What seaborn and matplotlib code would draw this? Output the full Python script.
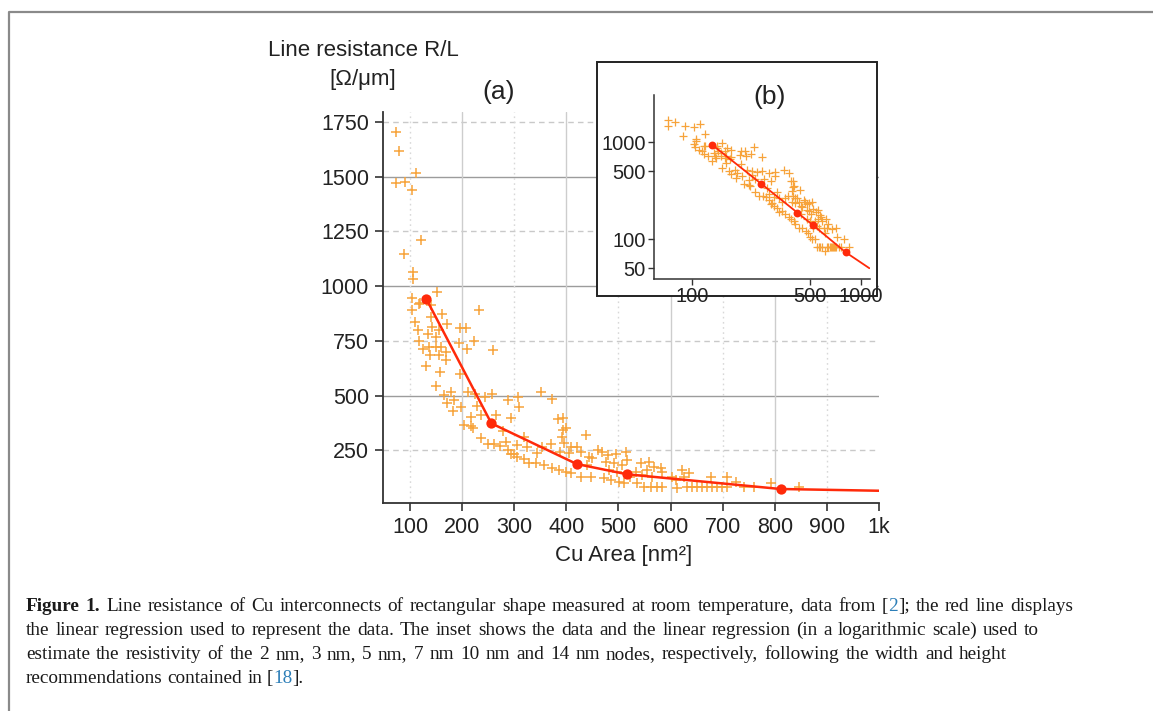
import matplotlib
matplotlib.use("Agg")
import matplotlib.pyplot as plt
import seaborn as sns
import pandas as pd
from matplotlib.lines import Line2D
from matplotlib.patches import Rectangle

# ---------------- data ----------------
area = [72, 79, 112, 72, 91, 103, 120, 88, 106, 106, 151, 103, 119, 104, 161, 232,
        118, 140, 171, 110, 115, 135, 156, 149, 140, 143, 118, 124, 137, 149, 159, 156,
        139, 168, 169, 131, 158, 195, 207, 193, 209, 222, 260, 195, 150, 165, 179, 171,
        184, 182, 198, 211, 225, 228, 217, 203, 217, 220, 236, 244, 258, 265, 278, 287,
        294, 308, 309, 352, 373, 237, 249, 262, 273, 284, 287, 294, 306, 318, 325, 343,
        354, 370, 383, 394, 394, 399, 391, 396, 388, 405, 408, 299, 306, 319, 329, 341,
        357, 373, 386, 399, 408, 420, 428, 437, 444, 460, 440, 450, 428, 447,
        469, 479, 495, 514, 517, 476, 491, 507, 482, 498, 523, 472, 485, 501, 511, 536,
        549, 562, 574, 584, 543, 559, 555, 568, 581, 533, 546, 565, 584, 603, 610, 622,
        626, 635, 613, 632, 642, 651, 661, 670, 680, 689, 699, 709, 677, 709, 725, 740,
        760, 792, 846]
resistance = [1703, 1617, 1518, 1473, 1476, 1439, 1211, 1145, 1066, 1035, 975, 947, 921, 891, 874, 891,
              918, 914, 827, 837, 799, 780, 799, 769, 860, 815, 751, 711, 723, 723, 723, 685,
              685, 662, 700, 635, 609, 807, 807, 741, 713, 749, 708, 598, 543, 502, 517, 464,
              482, 429, 449, 517, 505, 452, 403, 365, 361, 350, 411, 492, 505, 411, 339, 482,
              396, 495, 449, 516, 483, 304, 278, 278, 269, 289, 251, 231, 274, 309, 266, 239,
              266, 278, 393, 396, 342, 350, 312, 281, 243, 236, 266, 233, 220, 208, 190, 193,
              182, 167, 159, 152, 144, 266, 243, 319, 220, 251, 182, 213, 129, 129,
              243, 228, 233, 243, 205, 198, 193, 182, 159, 152, 129, 121, 114, 106, 99, 99,
              83, 83, 83, 83, 190, 198, 162, 175, 167, 152, 137, 129, 152, 129, 114, 159,
              129, 144, 76, 83, 83, 83, 83, 83, 83, 83, 83, 83, 126, 129, 106, 83,
              83, 99, 83]

fit_area = [131, 256, 420, 517, 811]
fit_res = [942, 373, 187, 140, 73]
main_end_area = [1000]
main_end_res = [65]
inset_end_area = [1120]
inset_end_res = [50]

x_ticks = [100, 200, 300, 400, 500, 600, 700, 800, 900, 1000]
x_ticklabels = ["100", "200", "300", "400", "500", "600", "700", "800", "900", "1k"]
y_ticks = [250, 500, 750, 1000, 1250, 1500, 1750]
inset_x_ticks = [100, 500, 1000]
inset_y_ticks = [50, 100, 500, 1000]

W, H = 1153, 711
ORANGE = "#F7A33A"
RED = "#FF2A0A"
TXT = "#222222"

sns.set_style("white")
plt.rcParams["font.family"] = ["Liberation Sans", "DejaVu Sans"]

fig = plt.figure(figsize=(W / 100, H / 100), dpi=100)
fig.patch.set_facecolor("white")

def fx(px):
    return px / W

def fy(py):
    return 1 - py / H

# ---------------- main axes ----------------
ax = fig.add_axes([fx(383), fy(503), fx(879) - fx(383), fy(112) - fy(503)])
ax.set_xlim(48, 1000)
ax.set_ylim(9, 1796)

for v in y_ticks:
    if v % 500 == 0:
        ax.axhline(v, color="#9c9c9c", lw=1.0, zorder=0)
    else:
        ax.axhline(v, color="#c9c9c9", lw=1.0, ls=(0, (4, 3)), zorder=0)
for v in x_ticks[:-1]:
    if v % 200 == 0:
        ax.axvline(v, color="#cdcdcd", lw=1.0, zorder=0)
    else:
        ax.axvline(v, color="#d8d8d8", lw=1.0, ls=(0, (1.2, 2.5)), zorder=0)

df = pd.DataFrame({"area": area, "res": resistance})
sns.scatterplot(data=df, x="area", y="res", marker="+", color=ORANGE, s=55,
                linewidth=1.1, ax=ax, zorder=2, legend=False)

line_df = pd.DataFrame({"area": fit_area + main_end_area, "res": fit_res + main_end_res})
sns.lineplot(data=line_df, x="area", y="res", color=RED, lw=1.8, sort=False,
             ax=ax, zorder=3, legend=False)
fit_df = pd.DataFrame({"area": fit_area, "res": fit_res})
sns.scatterplot(data=fit_df, x="area", y="res", color=RED, s=55, edgecolor=RED,
                linewidth=0, ax=ax, zorder=4, legend=False)

ax.set_xticks(x_ticks)
ax.set_xticklabels(x_ticklabels)
ax.set_yticks(y_ticks)
ax.set_yticklabels([str(v) for v in y_ticks])
ax.tick_params(axis="both", direction="out", length=6, width=1.2, color="#333333",
               labelsize=15.5, labelcolor=TXT, pad=4)
ax.tick_params(axis="x", bottom=True)
ax.tick_params(axis="y", left=True)
for s in ["top", "right"]:
    ax.spines[s].set_visible(False)
for s in ["left", "bottom"]:
    ax.spines[s].set_color("#333333")
    ax.spines[s].set_linewidth(1.3)
ax.set_xlabel("")
ax.set_ylabel("")

fig.text(fx(363), fy(50), "Line resistance R/L", ha="center", va="center",
         fontsize=16, color=TXT)
fig.text(fx(363), fy(79), "[Ω/μm]", ha="center", va="center",
         fontsize=16, color=TXT)
fig.text(fx(624), fy(556), "Cu Area [nm²]", ha="center", va="center",
         fontsize=16, color=TXT)
fig.text(fx(499), fy(92), "(a)", ha="center", va="center", fontsize=19, color=TXT)

# ---------------- inset ----------------
frame = Rectangle((fx(597), fy(296)), fx(877) - fx(597), fy(62) - fy(296),
                  transform=fig.transFigure, facecolor="white", edgecolor="#222222",
                  lw=1.4, zorder=2)
fig.add_artist(frame)

ax2 = fig.add_axes([fx(654), fy(279), fx(870) - fx(654), fy(95) - fy(279)])
ax2.set_zorder(3)
ax2.patch.set_alpha(0)
sns.scatterplot(data=df, x="area", y="res", marker="+", color=ORANGE, s=32,
                linewidth=0.9, ax=ax2, zorder=2, legend=False)
inset_line_df = pd.DataFrame({"area": fit_area + inset_end_area, "res": fit_res + inset_end_res})
sns.lineplot(data=inset_line_df, x="area", y="res", color=RED, lw=1.3, sort=False,
             ax=ax2, zorder=3, legend=False)
sns.scatterplot(data=fit_df, x="area", y="res", color=RED, s=32, linewidth=0,
                ax=ax2, zorder=4, legend=False)
ax2.set_xscale("log")
ax2.set_yscale("log")
ax2.set_xlim(59.6, 1130)
ax2.set_ylim(38.7, 3055)
ax2.set_xticks(inset_x_ticks)
ax2.set_xticklabels([str(v) for v in inset_x_ticks])
ax2.set_yticks(inset_y_ticks)
ax2.set_yticklabels([str(v) for v in inset_y_ticks])
ax2.minorticks_off()
ax2.tick_params(axis="both", direction="out", length=4, width=1.0, color="#333333",
                labelsize=14.5, labelcolor=TXT, pad=2)
ax2.tick_params(axis="x", bottom=True)
ax2.tick_params(axis="y", left=True)
for s in ["top", "right"]:
    ax2.spines[s].set_visible(False)
for s in ["left", "bottom"]:
    ax2.spines[s].set_color("#333333")
    ax2.spines[s].set_linewidth(1.1)
ax2.set_xlabel("")
ax2.set_ylabel("")
ax2.grid(False)
fig.text(fx(770), fy(97), "(b)", ha="center", va="center", fontsize=19,
         color=TXT, zorder=5)

# ---------------- page border ----------------
fig.add_artist(Line2D([fx(9), fx(9), 1.0], [0.0, fy(12), fy(12)],
                      transform=fig.transFigure, color="#8a8a8a", lw=1.6))

# ---------------- caption ----------------
renderer = fig.canvas.get_renderer()
CAP = dict(fontsize=13.9, family=["Liberation Serif", "DejaVu Serif"], color="#1a1a1a")
BLUE = "#2d7fb8"
B = {"fontweight": "bold"}
BL = {"color": BLUE}

def seg_width(txt, extra):
    kw = dict(CAP)
    kw.update(extra)
    t = fig.text(0, 0, txt, **kw)
    w = t.get_window_extent(renderer).width
    t.remove()
    return w

def caption_line(y_px, words, right_px=None, x_px=26):
    # words: list of lists of (text, style) segments; spaces between words
    widths = [[seg_width(t, e) for t, e in w] for w in words]
    total = sum(sum(ws) for ws in widths)
    gap = seg_width("a a", {}) - 2 * seg_width("a", {})
    if right_px is not None and len(words) > 1:
        gap = (right_px - x_px - total) / (len(words) - 1)
    x = x_px
    for w, ws in zip(words, widths):
        for (t, e), sw in zip(w, ws):
            kw = dict(CAP)
            kw.update(e)
            fig.text(fx(x), fy(y_px), t, ha="left", va="baseline", **kw)
            x += sw
        x += gap

def plain(s):
    return [[(w, {})] for w in s.split(" ")]

line1 = ([[("Figure", B)], [("1.", B)]]
         + plain("Line resistance of Cu interconnects of rectangular shape measured at room temperature, data from")
         + [[("[", {}), ("2", BL), ("];", {})]]
         + plain("the red line displays"))
line2 = plain("the linear regression used to represent the data. The inset shows the data and the linear regression (in a logarithmic scale) used to")
line3 = plain("estimate the resistivity of the 2 nm, 3 nm, 5 nm, 7 nm 10 nm and 14 nm nodes, respectively, following the width and height")
line4 = plain("recommendations contained in") + [[("[", {}), ("18", BL), ("].", {})]]

caption_line(611, line1, right_px=1073)
caption_line(635, line2, right_px=1039)
caption_line(659, line3, right_px=1007)
caption_line(683, line4)

fig.savefig("out.png", dpi=100, facecolor="white")
